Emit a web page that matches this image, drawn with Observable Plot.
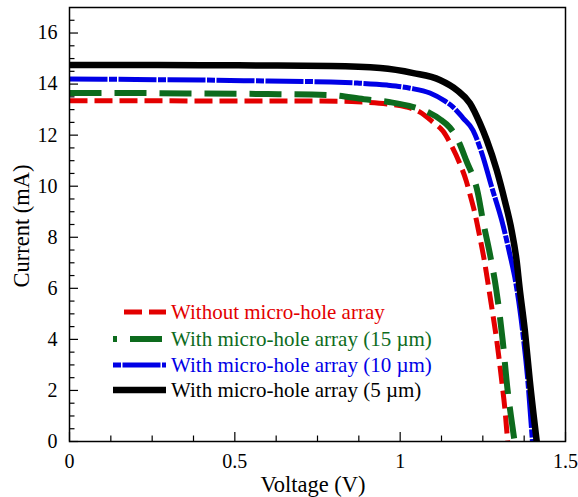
<!DOCTYPE html>
<html>
<head>
<meta charset="utf-8">
<script src="https://cdn.jsdelivr.net/npm/d3@7"></script>
<script src="https://cdn.jsdelivr.net/npm/@observablehq/plot@0.6"></script>
<style>
  html, body { margin: 0; padding: 0; background: #fff; }
  svg { display: block; }
</style>
</head>
<body>
<div id="chart"></div>
<script>
// ---- data ----
const seriesNames = [
  "Without micro-hole array",
  "With micro-hole array (15 \u00b5m)",
  "With micro-hole array (10 \u00b5m)",
  "With micro-hole array (5 \u00b5m)"
];
const redV = [0, 0.2, 0.4, 0.6, 0.82, 0.89, 0.96, 1.02, 1.06, 1.10, 1.13, 1.15, 1.18, 1.20, 1.21, 1.226, 1.241, 1.256, 1.268, 1.28, 1.292, 1.307, 1.318, 1.325];
const redI = [13.35, 13.35, 13.34, 13.34, 13.33, 13.29, 13.22, 13.1, 12.9, 12.5, 12.15, 11.72, 10.9, 10.2, 9.73, 8.94, 8.0, 6.98, 6.0, 5.0, 3.96, 2.39, 1.1, 0];
const greenV = [0, 0.2, 0.4, 0.6, 0.79, 0.89, 0.97, 1.04, 1.09, 1.12, 1.15, 1.175, 1.20, 1.235, 1.25, 1.271, 1.29, 1.31, 1.325, 1.335, 1.346];
const greenI = [13.65, 13.65, 13.63, 13.61, 13.57, 13.41, 13.29, 13.1, 12.86, 12.63, 12.3, 11.8, 11.0, 9.73, 8.67, 7.37, 6.0, 3.96, 2.0, 1.0, 0];
const blueV = [0, 0.2, 0.4, 0.6, 0.79, 0.87, 0.96, 1.03, 1.09, 1.136, 1.16, 1.19, 1.22, 1.247, 1.277, 1.307, 1.331, 1.352, 1.370, 1.386, 1.40];
const blueI = [14.2, 14.18, 14.16, 14.12, 14.08, 14.04, 13.96, 13.84, 13.65, 13.33, 13.1, 12.67, 12.2, 11.29, 9.96, 8.67, 7.37, 6.04, 4.35, 2.39, 0];
const blackV = [0, 0.2, 0.4, 0.6, 0.79, 0.94, 1.04, 1.12, 1.172, 1.211, 1.241, 1.262, 1.292, 1.316, 1.337, 1.352, 1.361, 1.377, 1.392, 1.413];
const blackI = [14.75, 14.75, 14.74, 14.73, 14.71, 14.63, 14.43, 14.16, 13.76, 13.25, 12.47, 11.8, 10.63, 9.45, 8.27, 7.1, 6.04, 4.35, 2.39, 0];

const xMajor = [0, 0.5, 1, 1.5];
const xMinor = [0.125, 0.25, 0.375, 0.625, 0.75, 0.875, 1.125, 1.25, 1.375];
const yMajor = [0, 2, 4, 6, 8, 10, 12, 14, 16];
const yMinor = [0.5,1,1.5,2.5,3,3.5,4.5,5,5.5,6.5,7,7.5,8.5,9,9.5,10.5,11,11.5,12.5,13,13.5,14.5,15,15.5,16.5];
const xLabel = "Voltage (V)";
const yLabel = "Current (mA)";

// ---- styles ----
const styles = [
  {color: "#e30000", width: 5, dash: "18,7"},
  {color: "#0d6b1d", width: 6, dash: "32,13"},
  {color: "#0000e6", width: 5, dash: "38,1.5,8,1.5"},
  {color: "#000000", width: 6.5, dash: null}
];
const seriesData = [[redV, redI], [greenV, greenI], [blueV, blueI], [blackV, blackI]]
  .map(([vs, is], k) => vs.map((v, j) => ({v, i: is[j], s: k})));

const W = 578, H = 497;
const mL = 69, mR = 13, mT = 7, mB = 56;
const fw = W - mL - mR, fh = H - mT - mB;
const font = "Liberation Serif";

const lineMarks = seriesData.map((d, k) => Plot.line(d, {
  x: "v", y: "i", curve: "monotone-x",
  stroke: styles[k].color, strokeWidth: styles[k].width,
  strokeDasharray: styles[k].dash, strokeLinecap: "butt", strokeLinejoin: "round"
}));

const plot = Plot.plot({
  width: W, height: H,
  marginLeft: mL, marginRight: mR, marginTop: mT, marginBottom: mB,
  style: {fontFamily: font, background: "#fff"},
  x: {domain: [0, 1.5]},
  y: {domain: [0, 17]},
  marks: [
    ...lineMarks,
    Plot.tickX(xMajor, {x: d => d, insetTop: fh - 9, stroke: "#000", strokeWidth: 1.2}),
    Plot.tickX(xMinor, {x: d => d, insetTop: fh - 5.5, stroke: "#000", strokeWidth: 1.2}),
    Plot.tickY(yMajor, {y: d => d, insetRight: fw - 9, stroke: "#000", strokeWidth: 1.2}),
    Plot.tickY(yMinor, {y: d => d, insetRight: fw - 5.5, stroke: "#000", strokeWidth: 1.2}),
    Plot.axisX(xMajor, {tickSize: 0, tickPadding: 12, fontSize: 20, fontFamily: font, fill: "#000", label: null, tickFormat: d => String(d)}),
    Plot.axisY(yMajor, {tickSize: 0, tickPadding: 12, fontSize: 20, fontFamily: font, fill: "#000", label: null, tickFormat: d => String(d)}),
    Plot.frame({stroke: "#000", strokeWidth: 1.5})
  ]
});
document.getElementById("chart").appendChild(plot);

const svg = d3.select(plot);
// axis titles
svg.append("text").attr("x", mL + fw / 2 - 4).attr("y", 492)
  .attr("text-anchor", "middle").attr("font-size", 22.5).attr("font-family", font)
  .attr("fill", "#000").text(xLabel);
svg.append("text").attr("transform", `translate(29,${226}) rotate(-90)`)
  .attr("text-anchor", "middle").attr("font-size", 22.5).attr("font-family", font)
  .attr("fill", "#000").text(yLabel);

// legend
const legendRowsY = [312, 339, 365, 390];
const leg = svg.append("g").attr("text-anchor", "start");
seriesNames.forEach((name, k) => {
  const st = styles[k];
  const y = legendRowsY[k];
  const ln = leg.append("line").attr("x1", k === 0 ? 124 : 113).attr("x2", 166)
    .attr("y1", y).attr("y2", y)
    .attr("stroke", st.color).attr("stroke-width", st.width);
  if (st.dash) ln.attr("stroke-dasharray", st.dash);
  if (k === 1) ln.attr("stroke-dashoffset", 28);
  if (k === 2) ln.attr("stroke-dashoffset", 39.5);
  leg.append("text").attr("x", 171).attr("y", y).attr("dy", "0.35em")
    .attr("text-anchor", "start")
    .attr("font-size", 21).attr("font-family", font).attr("fill", st.color).text(name);
});
</script>
</body>
</html>
